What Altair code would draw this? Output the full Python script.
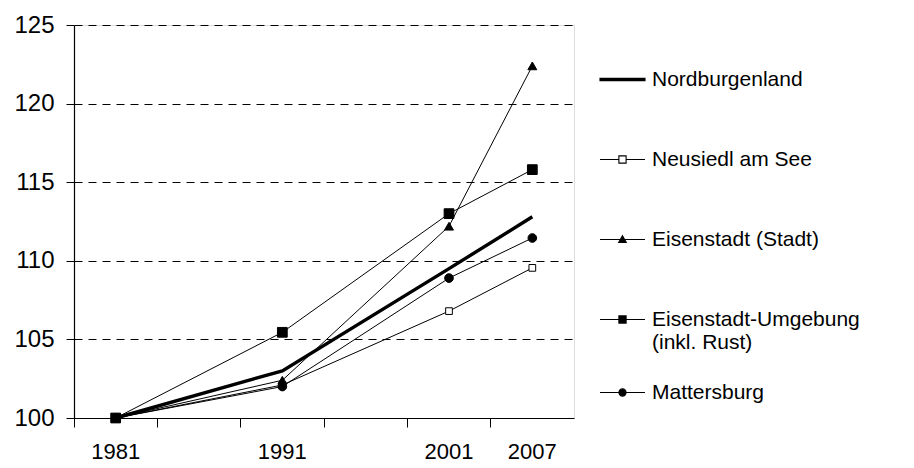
import altair as alt
import pandas as pd

# x categories (blank spacer categories as in the original category axis)
categories = ["1981", " ", "1991", "  ", "2001", "2007"]
years = ["1981", "1991", "2001", "2007"]

series_names = [
    "Nordburgenland",
    "Neusiedl am See",
    "Eisenstadt (Stadt)",
    "Eisenstadt-Umgebung (inkl. Rust)",
    "Mattersburg",
]
nordburgenland = [100.0, 103.0, 109.5, 112.8]
neusiedl = [100.0, 102.1, 106.8, 109.55]
eisenstadt_stadt = [100.0, 102.4, 112.2, 122.4]
eisenstadt_umgebung = [100.0, 105.45, 113.0, 115.8]
mattersburg = [100.0, 102.0, 108.9, 111.45]

y_ticks = [100, 105, 110, 115, 120, 125]

all_values = [nordburgenland, neusiedl, eisenstadt_stadt, eisenstadt_umgebung, mattersburg]
rows = []
for name, vals in zip(series_names, all_values):
    for yr, v in zip(years, vals):
        rows.append({"Jahr": yr, "Index": v, "Region": name})
df = pd.DataFrame(rows)

FONT = "Liberation Sans"

x_scale = alt.Scale(type="band", domain=categories, paddingInner=0, paddingOuter=0)

# axis carrying the year labels (no ticks)
x_labels = alt.X(
    "Jahr:O", scale=x_scale,
    axis=alt.Axis(
        title=None, orient="bottom", labelAngle=0, ticks=False, domain=False,
        labelFontSize=22, labelPadding=23, labelColor="black", labelFont=FONT,
    ),
)
# axis carrying the line and the tick marks between categories
x_ticks = alt.X(
    "Jahr:O", scale=x_scale,
    axis=alt.Axis(
        title=None, orient="bottom", labels=False, bandPosition=0,
        domainColor="black", domainWidth=1.2, tickColor="black", tickSize=9,
        tickWidth=1,
    ),
)
x_none = alt.X("Jahr:O", scale=x_scale, axis=None)

y_enc = alt.Y(
    "Index:Q",
    scale=alt.Scale(domain=[100, 125], nice=False, zero=False),
    axis=alt.Axis(
        title=None, values=y_ticks, grid=True, gridDash=[8, 6], gridColor="black",
        gridWidth=1, tickSize=8, tickColor="black", domainColor="black",
        labelFontSize=24, labelPadding=12, labelColor="black", labelFont=FONT,
        domainWidth=1.2,
    ),
)

base = alt.Chart(df)

lines = base.mark_line(color="black").encode(
    x=x_labels,
    y=y_enc,
    detail="Region:N",
    strokeWidth=alt.condition(
        alt.datum.Region == series_names[0], alt.value(3.4), alt.value(1)
    ),
)

marker_series = series_names[1:]
points = base.transform_filter(
    alt.FieldOneOfPredicate(field="Region", oneOf=marker_series)
).mark_point(stroke="black", strokeWidth=1, opacity=1).encode(
    x=x_ticks,
    y=y_enc,
    shape=alt.Shape("Region:N", scale=alt.Scale(domain=marker_series,
                    range=["square", "triangle-up", "square", "circle"]), legend=None),
    fill=alt.Fill("Region:N", scale=alt.Scale(domain=marker_series,
                  range=["white", "black", "black", "black"]), legend=None),
    size=alt.Size("Region:N", scale=alt.Scale(type="ordinal", domain=marker_series,
                  range=[45, 80, 95, 75]), legend=None),
)

legend_paths = {
    "Nordburgenland": "M-1,-0.05H1V0.05H-1Z",
    "Neusiedl am See": "M-1,0H-0.16M0.16,0H1M-0.16,-0.16H0.16V0.16H-0.16Z",
    "Eisenstadt (Stadt)": "M-1,0H1M0,-0.17L0.17,0.13L-0.17,0.13Z",
    "Eisenstadt-Umgebung (inkl. Rust)": "M-1,0H1M-0.16,-0.16H0.16V0.16H-0.16Z",
    "Mattersburg": "M-1,0H1M0.16,0A0.16,0.16 0 1,1 -0.16,0A0.16,0.16 0 1,1 0.16,0Z",
}
legend_fills = {
    "Nordburgenland": "black",
    "Neusiedl am See": "white",
    "Eisenstadt (Stadt)": "black",
    "Eisenstadt-Umgebung (inkl. Rust)": "black",
    "Mattersburg": "black",
}

label_expr = (
    "datum.label == 'Eisenstadt-Umgebung (inkl. Rust)' ? "
    "['Eisenstadt-Umgebung', '(inkl. Rust)'] : datum.label"
)


def legend_layer(names, legend_y):
    leg = alt.Legend(
        title=None, orient="none", legendX=525, legendY=legend_y,
        labelFontSize=21, labelFont=FONT, labelColor="black", labelLimit=400,
        symbolSize=2025, symbolStrokeColor="black", symbolStrokeWidth=1.1,
        symbolOpacity=1, labelOffset=6, rowPadding=46, labelExpr=label_expr,
    )
    return base.transform_filter(
        alt.FieldOneOfPredicate(field="Region", oneOf=names)
    ).mark_point(opacity=0, filled=False).encode(
        x=x_none,
        y=y_enc,
        shape=alt.Shape("Region:N", scale=alt.Scale(
            domain=names, range=[legend_paths[n] for n in names]), legend=leg),
        fill=alt.Fill("Region:N", scale=alt.Scale(
            domain=names, range=[legend_fills[n] for n in names]), legend=leg),
        stroke=alt.Stroke("Region:N", scale=alt.Scale(
            domain=names, range=["black"] * len(names)), legend=leg),
    )


legend_a = legend_layer(series_names[:4], 31)
legend_b = legend_layer(series_names[4:], 344)

chart = alt.layer(lines, points, legend_a, legend_b).resolve_scale(
    shape="independent", fill="independent", size="independent",
    stroke="independent",
).resolve_axis(x="independent").properties(
    width=500, height=393,
    padding={"left": 5, "top": 5, "right": 5, "bottom": 5},
).configure_view(stroke=None).configure(background="white")

chart.save("out.html", embed_options={"renderer": "svg", "actions": False})
